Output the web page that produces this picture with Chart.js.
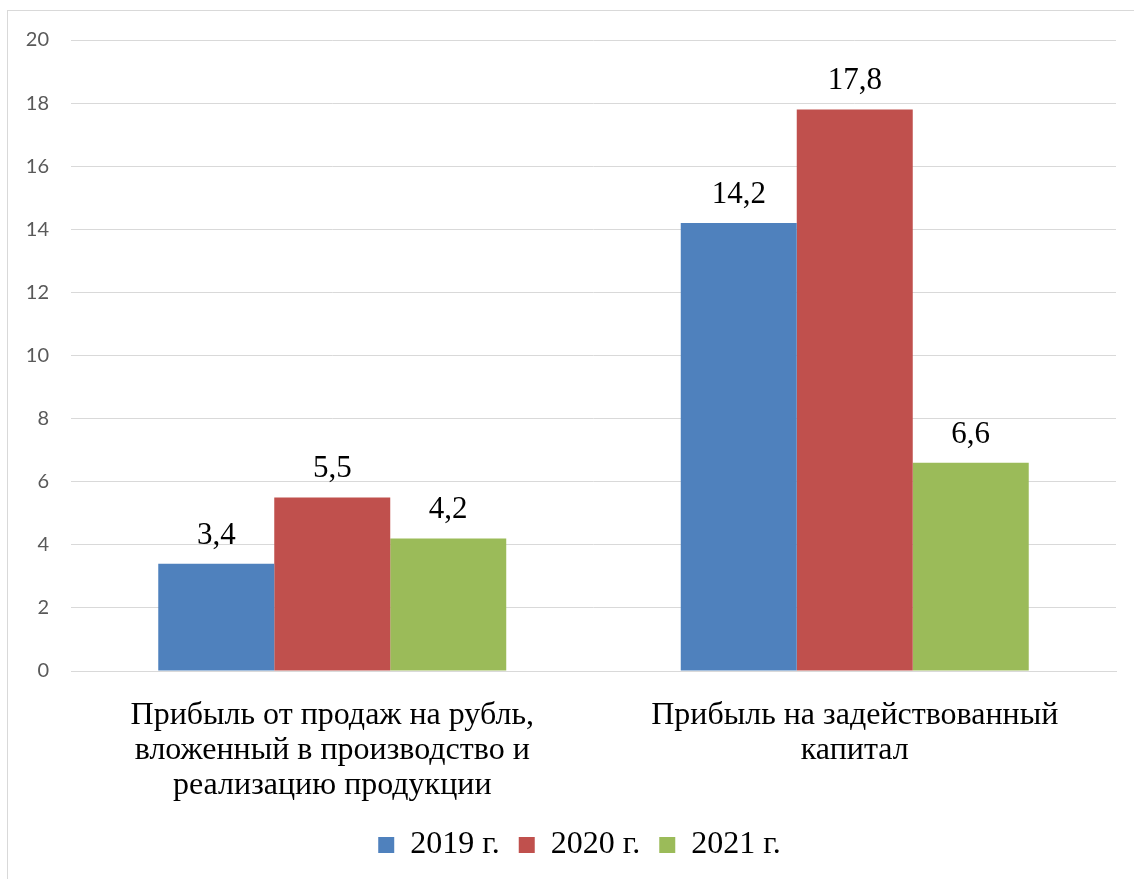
<!DOCTYPE html>
<html>
<head>
<meta charset="utf-8">
<script src="https://cdn.jsdelivr.net/npm/chart.js@4.4.1/dist/chart.umd.min.js"></script>
<style>
  html, body { margin: 0; padding: 0; background: #ffffff; }
  #wrap { width: 1134px; height: 879px; position: relative; }
</style>
</head>
<body>
<div id="wrap"><canvas id="c" width="1134" height="879"></canvas></div>
<script>
const categories = [
  ["Прибыль от продаж на рубль,", "вложенный в производство и", "реализацию продукции"],
  ["Прибыль на задействованный", "капитал"]
];
const seriesNames = ["2019 г.", "2020 г.", "2021 г."];
const values2019 = [3.4, 14.2];
const values2020 = [5.5, 17.8];
const values2021 = [4.2, 6.6];
const seriesColors = ["#4F81BD", "#C0504D", "#9BBB59"];
const yMin = 0, yMax = 20, yStep = 2;

const serif = "'Liberation Serif', 'Times New Roman', serif";
const LEGEND_SHIFT = 43;

const frameAndLabels = {
  id: 'frameAndLabels',
  afterLayout(chart) {
    if (chart.legend) { chart.legend.left += LEGEND_SHIFT; }
  },
  beforeDraw(chart) {
    const ctx = chart.ctx;
    ctx.save();
    ctx.fillStyle = '#ffffff';
    ctx.fillRect(0, 0, chart.width, chart.height);
    ctx.strokeStyle = '#D9D9D9';
    ctx.lineWidth = 1;
    ctx.strokeRect(7.5, 10.5, 2000, 2000);
    ctx.restore();
  },
  afterDatasetsDraw(chart) {
    const ctx = chart.ctx;
    ctx.save();
    ctx.font = "31px " + serif;
    ctx.fillStyle = '#000000';
    ctx.textAlign = 'center';
    ctx.textBaseline = 'alphabetic';
    chart.data.datasets.forEach((ds, i) => {
      const meta = chart.getDatasetMeta(i);
      meta.data.forEach((bar, j) => {
        const txt = String(ds.data[j]).replace('.', ',');
        ctx.fillText(txt, bar.x, bar.y - 20);
      });
    });
    ctx.restore();
  }
};

new Chart(document.getElementById('c'), {
  type: 'bar',
  data: {
    labels: categories,
    datasets: [
      { label: seriesNames[0], data: values2019, backgroundColor: seriesColors[0] },
      { label: seriesNames[1], data: values2020, backgroundColor: seriesColors[1] },
      { label: seriesNames[2], data: values2021, backgroundColor: seriesColors[2] }
    ]
  },
  options: {
    responsive: false,
    animation: false,
    devicePixelRatio: 1,
    layout: { padding: { top: 40, right: 18, left: 0, bottom: 8 } },
    datasets: { bar: { categoryPercentage: 0.666, barPercentage: 1.0, borderWidth: 0 } },
    plugins: {
      tooltip: { enabled: false },
      legend: {
        position: 'bottom',
        labels: {
          font: { family: serif, size: 32 },
          color: '#000000',
          boxWidth: 16,
          boxHeight: 16,
          padding: 19
        }
      }
    },
    scales: {
      x: {
        grid: { display: false, drawTicks: false },
        border: { display: true, color: '#D9D9D9', width: 1 },
        ticks: {
          color: '#000000',
          font: { family: serif, size: 32, lineHeight: 1.1 },
          padding: 27,
          maxRotation: 0,
          autoSkip: false
        },
        afterFit(scale) { scale.height = 139; }
      },
      y: {
        min: yMin, max: yMax,
        grid: { color: '#D9D9D9', drawTicks: false, lineWidth: 1 },
        border: { display: false },
        ticks: {
          stepSize: yStep,
          color: '#595959',
          font: { family: "Lato, 'Open Sans', sans-serif", size: 20 },
          padding: 22
        },
        afterFit(scale) { scale.width = 71; }
      }
    }
  },
  plugins: [frameAndLabels]
});
</script>
</body>
</html>
